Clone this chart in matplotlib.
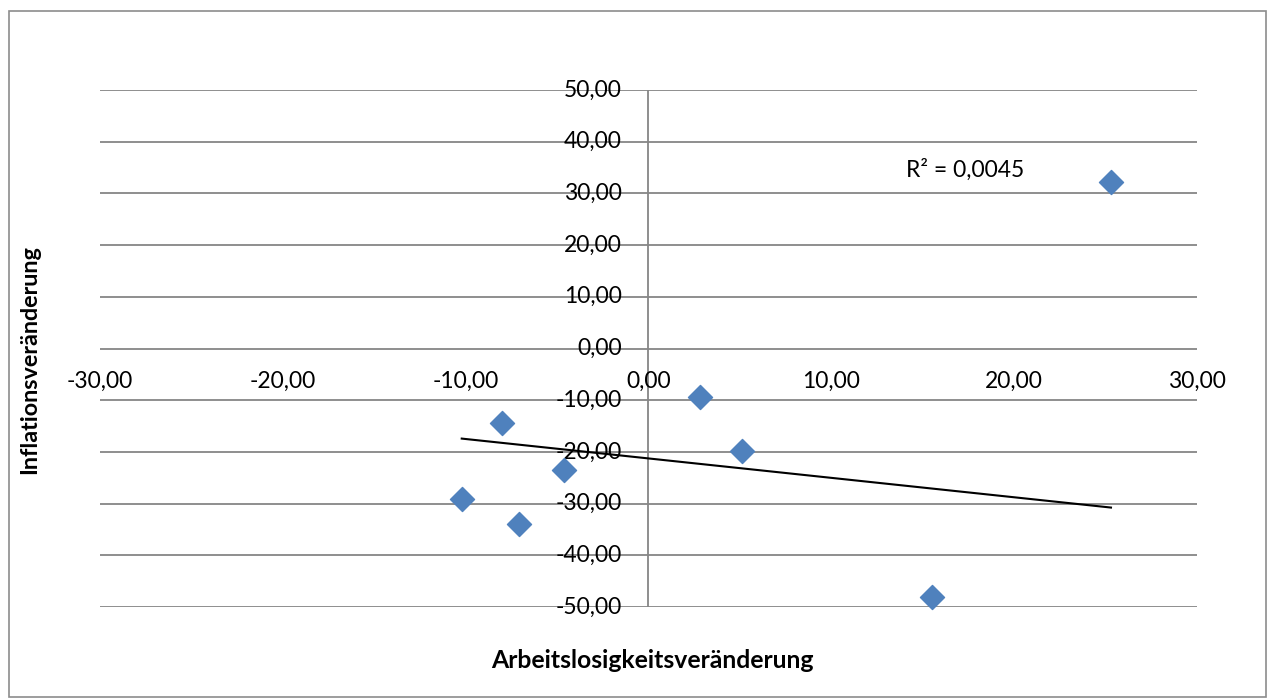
import matplotlib
matplotlib.use("Agg")
import matplotlib.pyplot as plt
from matplotlib.patches import Rectangle

# Data
x_vals = [25.31, 2.81, 5.11, -7.99, -4.61, -10.21, -7.06, 15.54]
y_vals = [32.3, -9.32, -19.8, -14.47, -23.5, -29.1, -33.95, -48.1]
# Excel linear trendline as displayed
trend_slope = -0.3756
trend_intercept = -21.26
r2_text = "R² = 0,0045"
x_ticks = [-30, -20, -10, 0, 10, 20, 30]
y_ticks = [50, 40, 30, 20, 10, 0, -10, -20, -30, -40, -50]
x_label = "Arbeitslosigkeitsveränderung"
y_label = "Inflationsveränderung"

plt.rcParams['font.family'] = ['Lato', 'DejaVu Sans']

W, H = 1269, 700
fig = plt.figure(figsize=(W / 100, H / 100), dpi=100)
fig.patch.set_facecolor("white")

# outer chart border
fig.add_artist(Rectangle((9 / W, 3 / H), (1266 - 9) / W, (689 - 3) / H,
                         transform=fig.transFigure, fill=False,
                         edgecolor="#8c8c8c", linewidth=1.2))

left, right = 100 / W, 1196.7 / W
bottom, top = (H - 607) / H, (H - 90) / H
ax = fig.add_axes([left, bottom, right - left, top - bottom])
ax.set_xlim(-30, 30)
ax.set_ylim(-50, 50)
for s in ax.spines.values():
    s.set_visible(False)
ax.set_xticks([])
ax.set_yticks([])

grid_color = "#868686"
for yt in y_ticks:
    ax.axhline(yt, color=grid_color, linewidth=1.3, zorder=1)
ax.axvline(0, color=grid_color, linewidth=1.3, zorder=1)

def fmt(v):
    return f"{v:.2f}".replace(".", ",")

FS = 16.5
# tick labels
for xt in x_ticks:
    ax.annotate(fmt(xt), xy=(xt, 0), xytext=(0, -16), textcoords="offset points",
                ha="center", va="top", fontsize=FS, color="black")
for yt in y_ticks:
    ax.annotate(fmt(yt), xy=(0, yt), xytext=(-19, 0), textcoords="offset points",
                ha="right", va="center", fontsize=FS, color="black")

# points
ax.scatter(x_vals, y_vals, marker="D", s=150, color="#4F81BD",
           edgecolors="#4F81BD", zorder=3, clip_on=False)

# trendline
xmin, xmax = min(x_vals), max(x_vals)
ax.plot([xmin, xmax], [trend_slope * xmin + trend_intercept,
                       trend_slope * xmax + trend_intercept],
        color="black", linewidth=1.5, zorder=2)

ax.text(14.1, 34.6, r2_text, fontsize=FS, ha="left", va="center")

fig.text(652 / W, (H - 660) / H, x_label, ha="center", va="center",
         fontsize=17.8, fontweight="bold")
fig.text(30 / W, (H - 360) / H, y_label, ha="center", va="center",
         rotation=90, fontsize=16.8, fontweight="bold")

fig.savefig("out.png", dpi=100, facecolor="white")
